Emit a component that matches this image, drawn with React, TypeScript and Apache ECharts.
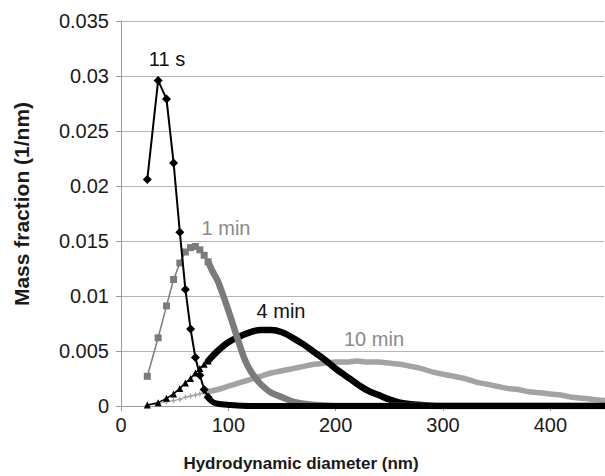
import React, { useEffect, useRef } from "react";
import * as echarts from "echarts";

// ---- data ----
const xTickValues = [0, 100, 200, 300, 400];

const x11s = [24.5, 34.6, 42.4, 49.0, 54.8, 60.0, 64.8, 69.3, 73.5, 77.5, 81.2, 84.9, 90, 100, 120, 150, 200, 250, 300, 350, 400, 450];
const y11s = [0.0206, 0.0296, 0.0279, 0.0221, 0.0158, 0.0106, 0.0070, 0.0044, 0.0028, 0.0015, 0.0008, 0.0004, 0.0002, 0.0001, 0, 0, 0, 0, 0, 0, 0, 0];

const x1min = [24.5, 34.6, 42.4, 49.0, 54.8, 60.0, 64.8, 69.3, 73.5, 77.5, 81.2, 85, 90, 95, 100, 105, 110, 115, 120, 125, 130, 140, 150, 160, 170, 180, 200, 250, 300, 350, 400, 450];
const y1min = [0.0027, 0.0062, 0.0091, 0.0115, 0.0130, 0.0140, 0.0144, 0.0145, 0.0142, 0.0137, 0.0131, 0.0123, 0.0114, 0.0101, 0.0087, 0.0072, 0.0057, 0.0043, 0.0033, 0.0026, 0.0020, 0.0012, 0.0008, 0.0004, 0.0002, 0.0001, 0, 0, 0, 0, 0, 0];

const x4min = [24.5, 34.6, 42.4, 49.0, 54.8, 60.0, 64.8, 69.3, 73.5, 77.5, 81.2, 90, 100, 110, 120, 130, 140, 150, 160, 170, 180, 190, 200, 210, 220, 230, 240, 250, 260, 270, 285, 300, 350, 400, 450];
const y4min = [0.0001, 0.0003, 0.0007, 0.0011, 0.0016, 0.0021, 0.0025, 0.0030, 0.0034, 0.0038, 0.0041, 0.0050, 0.0058, 0.0063, 0.0067, 0.0069, 0.0069, 0.0067, 0.0062, 0.0056, 0.0049, 0.0042, 0.0034, 0.0027, 0.0020, 0.0014, 0.0010, 0.0006, 0.0003, 0.00015, 0.00005, 0, 0, 0, 0];

const x10min = [24.5, 34.6, 42.4, 49.0, 54.8, 60.0, 64.8, 69.3, 73.5, 77.5, 81.2, 90, 100, 110, 120, 130, 140, 150, 160, 170, 180, 190, 200, 210, 220, 230, 240, 250, 260, 270, 280, 290, 300, 310, 320, 330, 340, 350, 360, 370, 380, 390, 400, 410, 420, 430, 440, 450];
const y10min = [0.00005, 0.0002, 0.0004, 0.0005, 0.0006, 0.0008, 0.0009, 0.0010, 0.0011, 0.0012, 0.0013, 0.0015, 0.0018, 0.0021, 0.0024, 0.0027, 0.0030, 0.0032, 0.0034, 0.0036, 0.0038, 0.0039, 0.0040, 0.0040, 0.0041, 0.0040, 0.0040, 0.0039, 0.0038, 0.0036, 0.0034, 0.0031, 0.0029, 0.0027, 0.0025, 0.0022, 0.0020, 0.0018, 0.0016, 0.0015, 0.0013, 0.0012, 0.0011, 0.0010, 0.0008, 0.0007, 0.0006, 0.0005];

const seriesNames = ["11 s", "1 min", "4 min", "10 min"];

const FONT = "'Liberation Sans', Arial, Helvetica, sans-serif";
const STAR = "path://M0,-10L2.5,-2.5L10,0L2.5,2.5L0,10L-2.5,2.5L-10,0L-2.5,-2.5Z";

function pairs(xs: number[], ys: number[]) {
  return xs.map((x, i) => [x, ys[i]]);
}

function makeSeries(
  name: string,
  xs: number[],
  ys: number[],
  sparseCount: number,
  color: string,
  symbol: string,
  symbolSize: number,
  thinWidth: number,
  bandWidth: number,
  z: number
) {
  const all = pairs(xs, ys);
  return [
    {
      name: name + " band",
      type: "line",
      data: all.slice(sparseCount - 1),
      showSymbol: false,
      symbol: "none",
      smooth: 0.3,
      lineStyle: { color, width: bandWidth, cap: "round", join: "round" },
      z,
      silent: true,
    },
    {
      name,
      type: "line",
      data: all.slice(0, sparseCount),
      symbol,
      symbolSize,
      itemStyle: { color, borderWidth: 0 },
      lineStyle: { color, width: thinWidth },
      z: z + 0.5,
      silent: true,
    },
  ];
}

export default function App() {
  const ref = useRef<HTMLDivElement>(null);

  useEffect(() => {
    if (!ref.current) return;
    const chart = echarts.init(ref.current, undefined, { renderer: "svg" });

    const series = [
      ...makeSeries(seriesNames[3], x10min, y10min, 11, "#a3a3a3", STAR, 7, 1, 5.5, 2),
      ...makeSeries(seriesNames[2], x4min, y4min, 11, "#000000", "triangle", 7, 1.5, 6.5, 3),
      ...makeSeries(seriesNames[1], x1min, y1min, 11, "#7b7b7b", "rect", 7, 1.5, 6.5, 4),
      ...makeSeries(seriesNames[0], x11s, y11s, 11, "#000000", "diamond", 9, 2, 6, 5),
    ];

    chart.setOption({
      animation: false,
      backgroundColor: "#ffffff",
      grid: { left: 121, top: 21, width: 483, height: 385, containLabel: false },
      xAxis: {
        type: "value",
        min: 0,
        max: 450,
        interval: 100,
        axisLine: { show: true, lineStyle: { color: "#9a9a9a", width: 1 } },
        axisTick: { show: true, length: 5, customValues: xTickValues, lineStyle: { color: "#9a9a9a" } },
        axisLabel: {
          customValues: xTickValues,
          color: "#1a1a1a",
          fontSize: 20,
          fontFamily: FONT,
          margin: 9,
          formatter: (v: number) => (v % 100 === 0 ? String(v) : ""),
        },
        splitLine: { show: false },
      },
      yAxis: {
        type: "value",
        min: 0,
        max: 0.035,
        interval: 0.005,
        axisLine: { show: true, lineStyle: { color: "#9a9a9a", width: 1 } },
        axisTick: { show: true, length: 5, lineStyle: { color: "#9a9a9a" } },
        axisLabel: { color: "#1a1a1a", fontSize: 20, fontFamily: FONT, margin: 12 },
        splitLine: { show: true, lineStyle: { color: "#b5b5b5", width: 1.2 } },
      },
      series,
      graphic: [
        {
          type: "text",
          x: 21,
          y: 204,
          rotation: Math.PI / 2,
          style: {
            text: "Mass fraction (1/nm)",
            fontSize: 21,
            fontWeight: "bold",
            fontFamily: FONT,
            fill: "#1a1a1a",
            textAlign: "center",
            textVerticalAlign: "middle",
          },
        },
        {
          type: "text",
          x: 301,
          y: 463,
          style: {
            text: "Hydrodynamic diameter (nm)",
            fontSize: 17,
            fontWeight: "bold",
            fontFamily: FONT,
            fill: "#1a1a1a",
            textAlign: "center",
            textVerticalAlign: "middle",
          },
        },
        {
          type: "text",
          x: 167,
          y: 59,
          style: { text: seriesNames[0], fontSize: 20, fontFamily: FONT, fill: "#111", textAlign: "center", textVerticalAlign: "middle" },
        },
        {
          type: "text",
          x: 226,
          y: 228,
          style: { text: seriesNames[1], fontSize: 20, fontFamily: FONT, fill: "#8a8a8a", textAlign: "center", textVerticalAlign: "middle" },
        },
        {
          type: "text",
          x: 281,
          y: 311,
          style: { text: seriesNames[2], fontSize: 20, fontFamily: FONT, fill: "#111", textAlign: "center", textVerticalAlign: "middle" },
        },
        {
          type: "text",
          x: 374,
          y: 339,
          style: { text: seriesNames[3], fontSize: 20, fontFamily: FONT, fill: "#8a8a8a", textAlign: "center", textVerticalAlign: "middle" },
        },
      ],
    });

    return () => chart.dispose();
  }, []);

  return <div ref={ref} style={{ position: "absolute", left: 0, top: 0, width: 605, height: 476 }} />;
}
